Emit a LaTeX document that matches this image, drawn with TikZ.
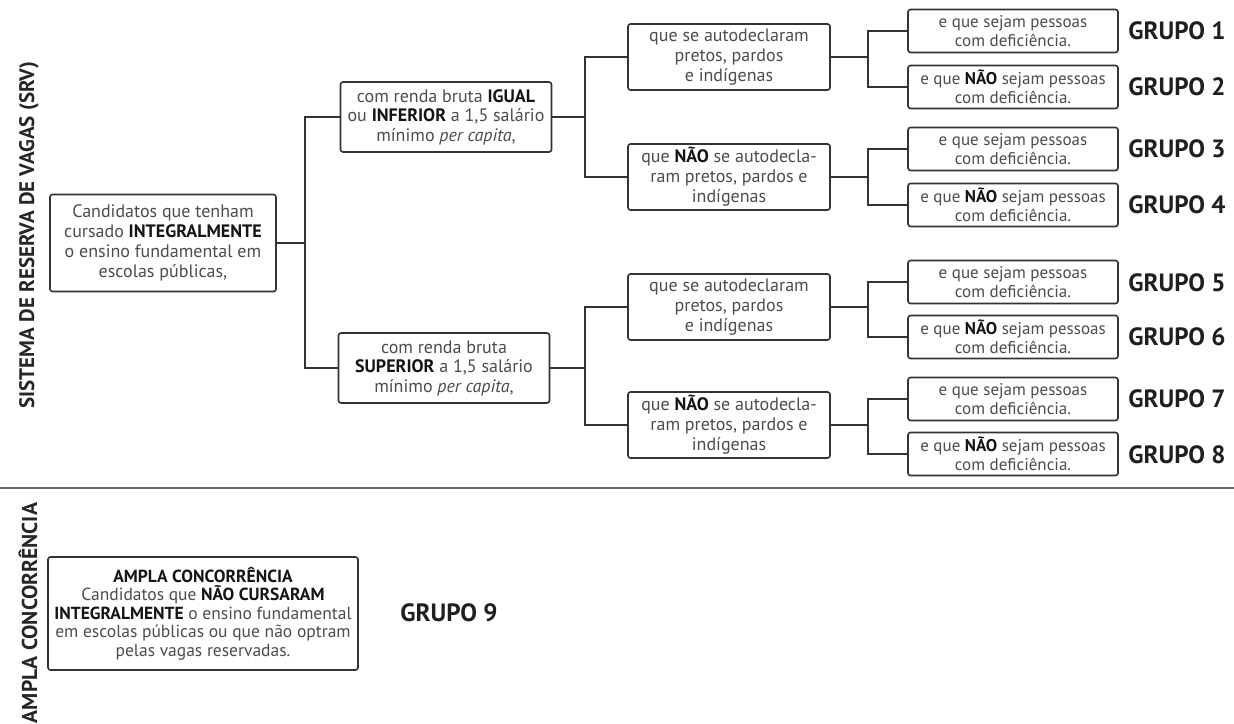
\documentclass[tikz,border=0pt]{standalone}
\usepackage{fontspec}
\setmainfont{PT Sans}
\newcommand\hb[1]{\textcolor{black!92}{\textbf{#1}}}
\begin{document}
\begin{tikzpicture}[x=1pt,y=-1pt,
  box/.style={draw=black!80, line width=1.6pt, rounded corners=2.5pt, align=center, inner sep=0pt, text=black!70},
  mainbox/.style={box, minimum width=226pt, minimum height=97pt, font=\fontsize{18}{20}\selectfont},
  rbox/.style={box, minimum width=211pt, minimum height=70pt, font=\fontsize{18}{19.5}\selectfont},
  abox/.style={box, minimum width=202pt, minimum height=66pt, font=\fontsize{18}{20}\selectfont},
  gbox/.style={box, minimum width=210pt, minimum height=43pt, font=\fontsize{17}{19}\selectfont},
  glabel/.style={font=\fontsize{25}{28}\selectfont\bfseries, text=black!88, inner sep=0pt},
  side/.style={font=\fontsize{21}{24}\selectfont\bfseries, text=black!85, rotate=90, inner sep=0pt},
  conn/.style={draw=black!80, line width=1.6pt}
]
\useasboundingbox (0,0) rectangle (1234,723);

% side labels
\node[side] (srv) at (29,235) {SISTEMA DE RESERVA DE VAGAS (SRV)};
\node[side, font=\fontsize{21.5}{24}\selectfont\bfseries] (ampla) at (28,613) {AMPLA CONCORRÊNCIA};

% main
\node[mainbox] (main) at (163,243) {Candidatos que tenham\\cursado \hb{INTEGRALMENTE}\\o ensino fundamental em\\escolas públicas,};

\node[rbox] (r1) at (446,117) {com renda bruta \hb{IGUAL}\\ou \hb{INFERIOR} a 1,5 salário\\mínimo \textit{per capita},};
\node[rbox] (r2) at (444,368) {com renda bruta\\\hb{SUPERIOR} a 1,5 salário\\mínimo \textit{per capita},};

\node[abox] (a1) at (729,57) {que se autodeclaram\\pretos, pardos\\e indígenas};
\node[abox] (a2) at (729,177) {que \hb{NÃO} se autodecla-\\ram pretos, pardos e\\indígenas};
\node[abox] (a3) at (729,307) {que se autodeclaram\\pretos, pardos\\e indígenas};
\node[abox] (a4) at (729,425) {que \hb{NÃO} se autodecla-\\ram pretos, pardos e\\indígenas};

\node[gbox] (g1) at (1013,31) {e que sejam pessoas\\com deficiência.};
\node[gbox] (g2) at (1013,87) {e que \hb{NÃO} sejam pessoas\\com deficiência.};
\node[gbox] (g3) at (1013,149) {e que sejam pessoas\\com deficiência.};
\node[gbox] (g4) at (1013,205) {e que \hb{NÃO} sejam pessoas\\com deficiência.};
\node[gbox] (g5) at (1013,282) {e que sejam pessoas\\com deficiência.};
\node[gbox] (g6) at (1013,337) {e que \hb{NÃO} sejam pessoas\\com deficiência.};
\node[gbox] (g7) at (1013,399) {e que sejam pessoas\\com deficiência.};
\node[gbox] (g8) at (1013,454) {e que \hb{NÃO} sejam pessoas\\com deficiência.};

\node[glabel] (l1) at (1177,31) {GRUPO 1};
\node[glabel] (l2) at (1177,87) {GRUPO 2};
\node[glabel] (l3) at (1177,149) {GRUPO 3};
\node[glabel] (l4) at (1177,205) {GRUPO 4};
\node[glabel] (l5) at (1177,283) {GRUPO 5};
\node[glabel] (l6) at (1177,337) {GRUPO 6};
\node[glabel] (l7) at (1177,399) {GRUPO 7};
\node[glabel] (l8) at (1177,455) {GRUPO 8};

% junction points
\coordinate (j0) at (305,243);
\coordinate (j1) at (585,117);
\coordinate (j2) at (585,368);
\coordinate (k1) at (868,57);
\coordinate (k2) at (868,177);
\coordinate (k3) at (868,307);
\coordinate (k4) at (868,425);

\draw[conn] (main.east) -- (j0);
\draw[conn] (r1.west) -| (j0) |- (r2.west);
\draw[conn] (r1.east) -- (j1);
\draw[conn] (a1.west) -| (j1) |- (a2.west);
\draw[conn] (r2.east) -- (j2);
\draw[conn] (a3.west) -| (j2) |- (a4.west);
\draw[conn] (a1.east) -- (k1);
\draw[conn] (g1.west) -| (k1) |- (g2.west);
\draw[conn] (a2.east) -- (k2);
\draw[conn] (g3.west) -| (k2) |- (g4.west);
\draw[conn] (a3.east) -- (k3);
\draw[conn] (g5.west) -| (k3) |- (g6.west);
\draw[conn] (a4.east) -- (k4);
\draw[conn] (g7.west) -| (k4) |- (g8.west);

% separator
\coordinate (s1) at (0,488);
\coordinate (s2) at (1234,488);
\draw[draw=black!60, line width=2.4pt] (s1) -- (s2);

% ampla
\node[box, minimum width=310pt, minimum height=113pt, font=\fontsize{17.5}{18.5}\selectfont] (ac) at (203,613.5)
 {\hb{AMPLA CONCORRÊNCIA}\\Candidatos que \hb{NÃO CURSARAM}\\\hb{INTEGRALMENTE} o ensino fundamental\\em escolas públicas ou que não optram\\pelas vagas reservadas.};
\node[glabel] (l9) at (449,613) {GRUPO 9};
\end{tikzpicture}
\end{document}
